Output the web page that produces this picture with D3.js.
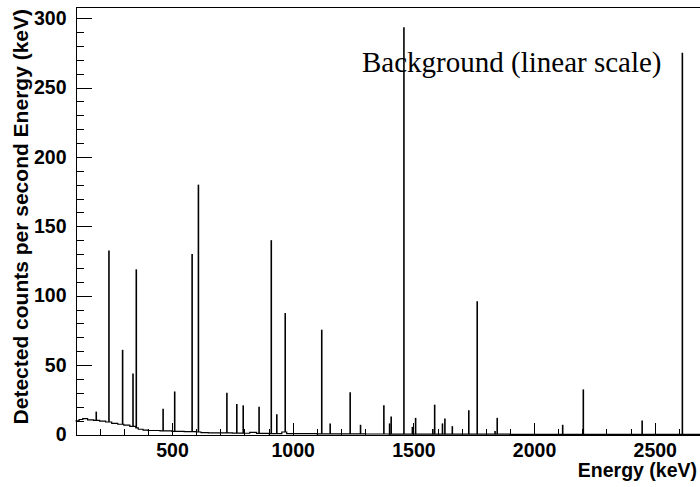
<!DOCTYPE html>
<html>
<head>
<meta charset="utf-8">
<script src="https://cdn.jsdelivr.net/npm/d3@7/dist/d3.min.js"></script>
<style>
  html, body { margin: 0; padding: 0; background: #fff; }
  svg { display: block; }
  .lbl { font-family: "Liberation Sans", Arial, Helvetica, sans-serif; font-weight: bold; }
</style>
</head>
<body>
<svg id="chart" width="700" height="487"></svg>
<script>
// Smooth background continuum (energy in keV -> counts per second per keV)
const continuumEnergy = [100, 115, 130, 150, 175, 200, 225, 250, 275, 300, 325, 350, 360, 380, 400, 450, 500, 550, 600, 620, 650, 700, 750, 800, 822, 850, 900, 955, 975, 1000, 1100, 1200, 1300, 1400, 1500, 1700, 1900, 2100, 2300, 2500, 2700];
const continuumCounts = [9.8, 10.8, 11.5, 10.5, 10.2, 9.6, 9.0, 8.0, 7.4, 6.8, 5.8, 4.8, 3.8, 3.2, 2.9, 2.6, 2.3, 2.1, 1.8, 1.3, 1.2, 1.1, 1.0, 0.9, 1.6, 0.8, 0.7, 1.8, 0.6, 0.6, 0.5, 0.4, 0.35, 0.3, 0.25, 0.2, 0.15, 0.12, 0.1, 0.08, 0.05];

// Gamma lines of the natural background: energy (keV) and peak height
const peakEnergy = [186, 238.6, 295.2, 338.3, 351.9, 463, 511, 583.2, 609.3, 727.3, 768.4, 794.9, 860.6, 911.2, 934.1, 969, 1120.3, 1155.2, 1238.1, 1281, 1377.7, 1401.5, 1408, 1460.8, 1495.9, 1509.2, 1580.5, 1588.2, 1620.5, 1630.6, 1661.3, 1729.6, 1764.5, 1838.4, 1847.4, 2118.6, 2204.1, 2447.9, 2614.5];
const peakCounts = [16.5, 132.5, 61, 44, 119, 18.5, 31, 130, 180, 30, 22, 21, 20, 140, 14.5, 87.5, 75.5, 8, 30.5, 7, 21, 8, 13, 293.5, 5.5, 12, 4, 21.5, 8, 11.5, 6, 17.5, 96, 2.5, 12, 7, 32.5, 10, 275];

// Axis ticks
const xMajorTicks = [500, 1000, 1500, 2000, 2500];
const xMinorTicks = d3.range(100, 2701, 100);
const yMajorTicks = [0, 50, 100, 150, 200, 250, 300];
const yMinorTicks = d3.range(0, 308, 10);

const xTitle = "Energy (keV)";
const yTitle = "Detected counts per second Energy (keV)";
const chartLabel = "Background (linear scale)";

const svg = d3.select("#chart");
const x = d3.scaleLinear().domain([100, 2700]).range([75.5, 703]);
const y = d3.scaleLinear().domain([0, 308]).range([434.5, 7]);

function baseAt(e) {
  // step value of the continuum at energy e
  const i = d3.bisectRight(continuumEnergy, e) - 1;
  return continuumCounts[Math.max(0, i)];
}

// Frame (top edge; right edge lies beyond the visible area)
svg.append("line")
  .attr("x1", x(100)).attr("x2", x(2700))
  .attr("y1", y(308)).attr("y2", y(308))
  .attr("stroke", "#000").attr("stroke-width", 1).attr("shape-rendering", "crispEdges");
svg.append("line")
  .attr("x1", x(2700)).attr("x2", x(2700))
  .attr("y1", y(308)).attr("y2", y(0))
  .attr("stroke", "#000").attr("stroke-width", 1);

// Continuum as a histogram-like step line
const cont = continuumEnergy.map((e, i) => [e, continuumCounts[i]]);
svg.append("path")
  .datum(cont)
  .attr("fill", "none")
  .attr("stroke", "#000")
  .attr("stroke-width", 1.2)
  .attr("d", d3.line().x(d => x(d[0])).y(d => y(d[1])).curve(d3.curveStepAfter));

// Peaks as narrow spikes rising from the continuum
const peaks = peakEnergy.map((e, i) => ({ e, v: peakCounts[i] }));
svg.append("g").selectAll("line")
  .data(peaks)
  .join("line")
  .attr("x1", d => x(d.e)).attr("x2", d => x(d.e))
  .attr("y1", d => y(baseAt(d.e)))
  .attr("y2", d => y(d.v))
  .attr("stroke", "#000")
  .attr("stroke-width", 1.6);

// Axes
function styleAxis(g) {
  g.attr("font-size", null).attr("font-family", null);
  g.selectAll("line").attr("stroke", "#000").attr("shape-rendering", "crispEdges");
  g.selectAll("path.domain").attr("stroke", "#000").attr("shape-rendering", "crispEdges");
  g.selectAll("text").attr("class", "lbl").attr("fill", "#000").style("font-size", "19.5px");
}

svg.append("g")
  .attr("transform", `translate(0,${y(0)})`)
  .call(d3.axisBottom(x).tickValues(xMinorTicks).tickSize(-6).tickSizeOuter(0).tickFormat(""))
  .call(styleAxis);
svg.append("g")
  .attr("transform", `translate(0,${y(0)})`)
  .call(d3.axisBottom(x).tickValues(xMajorTicks).tickSize(-12).tickSizeOuter(0).tickPadding(8.5).tickFormat(d3.format("d")))
  .call(styleAxis);

svg.append("g")
  .attr("transform", `translate(${x(100)},0)`)
  .call(d3.axisLeft(y).tickValues(yMinorTicks).tickSize(-8).tickSizeOuter(0).tickFormat(""))
  .call(styleAxis);
svg.append("g")
  .attr("transform", `translate(${x(100)},0)`)
  .call(d3.axisLeft(y).tickValues(yMajorTicks).tickSize(-16).tickSizeOuter(0).tickPadding(9).tickFormat(d3.format("d")))
  .call(styleAxis);

// Axis titles
svg.append("text")
  .attr("class", "lbl")
  .attr("x", 697).attr("y", 477)
  .attr("text-anchor", "end")
  .style("font-size", "19.5px")
  .text(xTitle);

svg.append("text")
  .attr("class", "lbl")
  .attr("transform", "translate(28,9) rotate(-90)")
  .attr("text-anchor", "end")
  .style("font-size", "21px")
  .text(yTitle);

// Chart label
svg.append("text")
  .attr("x", 362).attr("y", 72)
  .style("font-family", "'Liberation Serif', 'Times New Roman', serif")
  .style("font-size", "29px")
  .text(chartLabel);
</script>
</body>
</html>
